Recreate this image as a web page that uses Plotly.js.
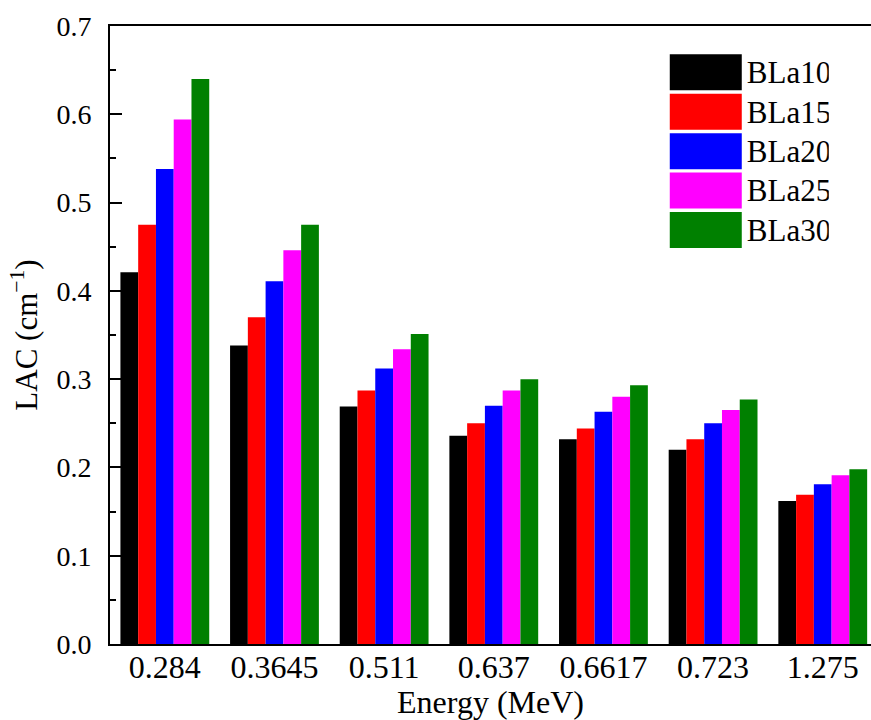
<!DOCTYPE html>
<html>
<head>
<meta charset="utf-8">
<script src="https://cdn.plot.ly/plotly-3.0.1.min.js"></script>
<style>html,body{margin:0;padding:0;background:#fff;}</style>
</head>
<body>
<div id="chart" style="width:871px;height:720px;"></div>
<script>
const energies = ["0.284", "0.3645", "0.511", "0.637", "0.6617", "0.723", "1.275"];
const seriesNames = ["BLa10", "BLa15", "BLa20", "BLa25", "BLa30"];
const BLa10 = [0.421, 0.338, 0.269, 0.236, 0.232, 0.220, 0.162];
const BLa15 = [0.475, 0.370, 0.287, 0.250, 0.244, 0.232, 0.169];
const BLa20 = [0.538, 0.411, 0.312, 0.270, 0.263, 0.250, 0.181];
const BLa25 = [0.594, 0.446, 0.334, 0.287, 0.280, 0.265, 0.191];
const BLa30 = [0.640, 0.475, 0.351, 0.300, 0.293, 0.277, 0.198];
const seriesValues = [BLa10, BLa15, BLa20, BLa25, BLa30];
const colors = ["#000000", "#ff0000", "#0000ff", "#ff00ff", "#008000"];

const font = 'Liberation Serif, Times New Roman, serif';

const traces = seriesNames.map((name, i) => ({
  type: 'bar',
  name: name,
  x: energies,
  y: seriesValues[i],
  marker: {color: colors[i], line: {width: 0}}
}));

const layout = {
  width: 871, height: 720,
  margin: {l: 110, r: 0, t: 26, b: 76},
  paper_bgcolor: '#fff', plot_bgcolor: '#fff',
  font: {family: font, size: 30, color: '#000'},
  barmode: 'group', bargap: 0.19, bargroupgap: 0,
  showlegend: true,
  legend: {
    x: 0.729, xanchor: 'left', y: 0.965, yanchor: 'top',
    bgcolor: 'rgba(0,0,0,0)', font: {family: font, size: 28, color: '#000'},
    itemwidth: 72, tracegroupgap: 0
  },
  xaxis: {
    type: 'category', range: [-0.5, 6.44],
    showline: true, linecolor: '#000', linewidth: 2, mirror: true,
    ticks: '', showgrid: false, zeroline: false,
    tickfont: {family: font, size: 32},
    ticklabelstandoff: -6,
    title: {text: 'Energy (MeV)', font: {family: font, size: 32}, standoff: 0},
    automargin: false
  },
  yaxis: {
    range: [0, 0.7], dtick: 0.1, tick0: 0, tickformat: '.1f',
    showline: true, linecolor: '#000', linewidth: 2, mirror: false,
    ticks: 'inside', ticklen: 12, tickwidth: 2, tickcolor: '#000',
    minor: {dtick: 0.05, ticks: 'inside', ticklen: 6, tickwidth: 2, tickcolor: '#000', showgrid: false},
    showgrid: false, zeroline: false,
    tickfont: {family: font, size: 28},
    ticklabelstandoff: 11,
    title: {text: 'LAC (cm<sup>\u22121</sup>)', font: {family: font, size: 31}},
    automargin: false
  }
};

function styleLegend(gd) {
  gd.querySelectorAll('.legend .legendpoints path').forEach(p => {
    p.setAttribute('d', 'M36,18H-36V-18H36Z');
  });
  gd.querySelectorAll('.legend .legendtext').forEach(t => {
    t.style.fontSize = '31px';
  });
}

const gd = document.getElementById('chart');
Plotly.newPlot(gd, traces, layout, {displayModeBar: false, staticPlot: true}).then(() => {
  styleLegend(gd);
  setTimeout(() => styleLegend(gd), 0);
  gd.on('plotly_afterplot', () => styleLegend(gd));
});
</script>
</body>
</html>
